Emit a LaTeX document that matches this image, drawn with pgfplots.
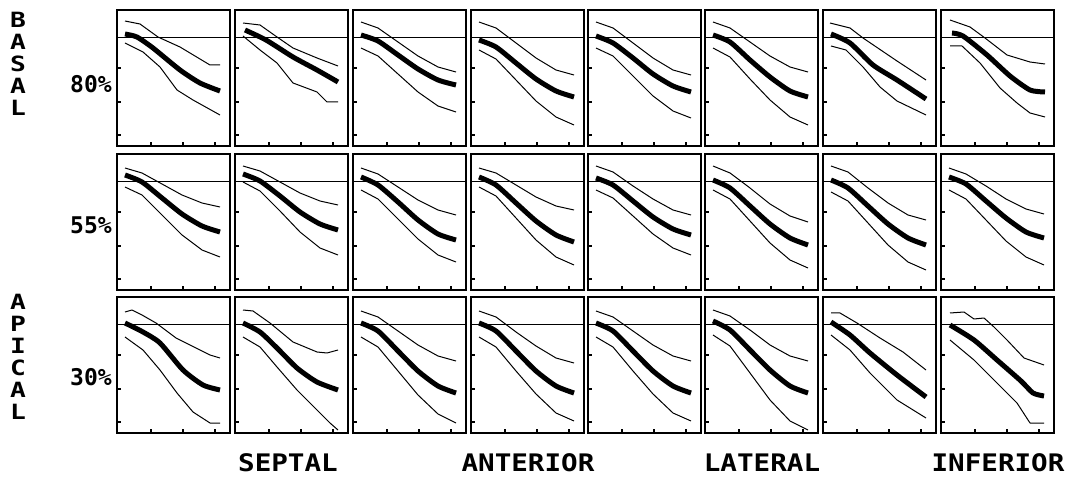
\documentclass[border=0pt]{standalone}
\usepackage{pgfplots}
\pgfplotsset{compat=1.18}
\usepackage{fontspec}
\newfontfamily\lab{DejaVu Sans Mono}
\pgfplotsset{panel/.style={width=113pt,height=136pt,scale only axis,
  xmin=0,xmax=113,ymin=0,ymax=136,
  xtick={34,66,98},ytick={11,44,78},xticklabels={},yticklabels={},
  tick align=inside,major tick length=4pt,tick pos=left,
  every tick/.style={black,line width=2.6pt},
  axis line style={line width=1.3pt},
  clip=false}}
\newcommand{\panel}[5]{%
\begin{axis}[panel,at={(#1pt,#2pt)},anchor=south west]
\addplot[black,line width=1pt] coordinates {(0,108) (113,108)};
\addplot[black,line width=1pt,line join=round] coordinates {#3};
\addplot[black,line width=5pt,line join=round,smooth,tension=0.4] coordinates {#4};
\addplot[black,line width=1pt,line join=round] coordinates {#5};
\end{axis}}
\newcommand{\lbl}[1]{\scalebox{1.2}[1.05]{#1}}
\newcommand{\vl}[1]{\scalebox{1.25}[1]{#1}}
\begin{document}
\begin{tikzpicture}
\path[use as bounding box] (0,0) rectangle (1077pt,477pt);
% Row 1 (bottom at 331)
\panel{117}{331}{(8,125) (23,122) (41,109) (63,99) (93,81) (103,81)}{(8,112) (20,109) (36,98) (63,76) (83,63) (103,55)}{(8,103) (26,94) (43,79) (60,56) (76,46) (103,31)}
\panel{235}{331}{(8,123) (25,121) (42,109) (58,98) (82,88) (103,80)}{(10,116) (31,106) (58,89) (82,76) (103,64)}{(8,110) (25,96) (42,83) (58,63) (82,54) (92,44) (103,44)}
\panel{353}{331}{(8,124) (25,118) (45,104) (65,90) (85,79) (103,74)}{(8,111) (25,105) (45,91) (65,77) (85,66) (103,61)}{(8,98) (25,90) (45,72) (65,54) (85,40) (103,34)}
\panel{471}{331}{(8,124) (25,118) (45,103) (65,88) (85,76) (103,71)}{(8,106) (25,99) (45,83) (65,67) (85,55) (103,49)}{(8,96) (25,87) (45,66) (65,45) (85,29) (103,21)}
\panel{588}{331}{(8,124) (25,118) (45,103) (65,88) (85,76) (103,71)}{(8,110) (25,103) (45,88) (65,72) (85,60) (103,54)}{(8,98) (25,90) (45,70) (65,50) (85,35) (103,28)}
\panel{705}{331}{(8,124) (25,118) (45,104) (65,90) (85,79) (103,74)}{(8,111) (25,104) (45,86) (65,69) (85,55) (103,49)}{(8,98) (25,89) (45,67) (65,46) (85,29) (103,21)}
\panel{823}{331}{(7,123) (27,118) (40,108) (74,85) (103,66)}{(8,112) (27,103) (50,81) (74,66) (103,47)}{(8,100) (23,96) (40,79) (57,59) (74,45) (103,31)}
\panel{941}{331}{(9,126) (29,119) (44,108) (66,91) (89,84) (104,82)}{(11,113) (22,110) (46,91) (69,70) (89,56) (104,54)}{(9,100) (21,100) (39,83) (59,58) (76,43) (89,33) (104,29)}
% Row 2 (bottom at 187)
\panel{117}{187}{(8,122) (25,117) (45,106) (65,95) (85,87) (103,83)}{(8,115) (25,108) (45,92) (65,76) (85,64) (103,58)}{(8,103) (25,95) (45,75) (65,55) (85,40) (103,33)}
\panel{235}{187}{(8,124) (25,119) (45,108) (65,97) (85,89) (103,85)}{(8,116) (25,109) (45,94) (65,78) (85,66) (103,60)}{(8,108) (25,99) (45,79) (65,58) (85,42) (103,35)}
\panel{353}{187}{(8,122) (25,116) (45,103) (65,90) (85,80) (103,75)}{(8,113) (25,105) (45,88) (65,70) (85,56) (103,50)}{(8,100) (25,91) (45,71) (65,51) (85,35) (103,28)}
\panel{471}{187}{(8,122) (25,117) (45,105) (65,93) (85,84) (103,80)}{(8,113) (25,105) (45,87) (65,69) (85,55) (103,48)}{(8,103) (25,94) (45,72) (65,50) (85,33) (103,25)}
\panel{588}{187}{(8,124) (25,118) (45,104) (65,91) (85,80) (103,75)}{(8,112) (25,105) (45,89) (65,73) (85,61) (103,55)}{(8,100) (25,92) (45,74) (65,56) (85,42) (103,35)}
\panel{705}{187}{(8,124) (25,117) (45,102) (65,86) (85,74) (103,68)}{(8,110) (25,102) (45,84) (65,66) (85,52) (103,45)}{(8,100) (25,91) (45,69) (65,47) (85,30) (103,22)}
\panel{823}{187}{(8,124) (25,118) (45,102) (65,87) (85,75) (103,70)}{(8,110) (25,102) (45,84) (65,66) (85,52) (103,45)}{(8,98) (25,89) (45,67) (65,45) (85,28) (103,20)}
\panel{941}{187}{(8,122) (25,116) (45,104) (65,91) (85,81) (103,76)}{(8,113) (25,106) (45,89) (65,72) (85,58) (103,52)}{(8,100) (25,91) (45,70) (65,49) (85,33) (103,25)}
% Row 3 (bottom at 44)
\panel{117}{44}{(8,121) (15,123) (25,118) (39,110) (59,95) (93,78) (103,75)}{(8,110) (26,101) (43,90) (66,63) (86,48) (103,43)}{(8,96) (26,83) (43,63) (60,40) (76,21) (93,10) (103,10)}
\panel{235}{44}{(8,123) (18,122) (35,110) (58,91) (82,81) (92,80) (103,83)}{(8,110) (25,101) (42,85) (62,65) (82,51) (103,43)}{(8,96) (25,86) (42,66) (62,43) (82,23) (95,10) (103,3)}
\panel{353}{44}{(8,122) (25,116) (45,102) (65,88) (85,77) (103,72)}{(8,110) (25,102) (45,82) (65,62) (85,47) (103,40)}{(8,96) (25,86) (45,62) (65,38) (85,19) (103,10)}
\panel{471}{44}{(8,122) (25,116) (45,101) (65,87) (85,75) (103,70)}{(8,110) (25,102) (45,82) (65,62) (85,47) (103,40)}{(8,96) (25,86) (45,62) (65,39) (85,20) (103,12)}
\panel{588}{44}{(8,122) (25,116) (45,102) (65,88) (85,77) (103,72)}{(8,110) (25,102) (45,82) (65,62) (85,47) (103,40)}{(8,96) (25,86) (45,62) (65,39) (85,20) (103,12)}
\panel{705}{44}{(8,123) (25,117) (45,103) (65,88) (85,77) (103,72)}{(8,112) (25,103) (45,83) (65,63) (85,47) (103,40)}{(8,98) (25,87) (45,60) (65,33) (85,12) (103,3)}
\panel{823}{44}{(8,120) (17,120) (34,110) (57,95) (80,81) (103,63)}{(8,111) (27,98) (47,80) (74,58) (103,36)}{(8,98) (27,83) (47,60) (74,33) (103,15)}
\panel{941}{44}{(9,120) (23,121) (33,114) (43,115) (53,106) (66,93) (83,75) (103,68)}{(9,108) (33,93) (56,73) (80,52) (92,40) (103,37)}{(9,93) (33,73) (56,50) (76,30) (89,10) (103,10)}
% Labels
\begin{scope}[every node/.style={font=\lab\bfseries\fontsize{21}{21}\selectfont,inner sep=0pt}]
\node at (18pt,457pt) {\vl{B}};
\node at (18pt,435pt) {\vl{A}};
\node at (18pt,413pt) {\vl{S}};
\node at (18pt,391pt) {\vl{A}};
\node at (18pt,369pt) {\vl{L}};
\node at (18pt,175pt) {\vl{A}};
\node at (18pt,153pt) {\vl{P}};
\node at (18pt,131pt) {\vl{I}};
\node at (18pt,109pt) {\vl{C}};
\node at (18pt,87pt) {\vl{A}};
\node at (18pt,65pt) {\vl{L}};
\end{scope}
\begin{scope}[every node/.style={font=\lab\bfseries\fontsize{23}{23}\selectfont,inner sep=0pt}]
\node at (91pt,393pt) {80\%};
\node at (91pt,252pt) {55\%};
\node at (91pt,100pt) {30\%};
\node at (288pt,14pt) {\lbl{SEPTAL}};
\node at (528pt,14pt) {\lbl{ANTERIOR}};
\node at (762pt,14pt) {\lbl{LATERAL}};
\node at (998pt,14pt) {\lbl{INFERIOR}};
\end{scope}
\end{tikzpicture}
\end{document}
